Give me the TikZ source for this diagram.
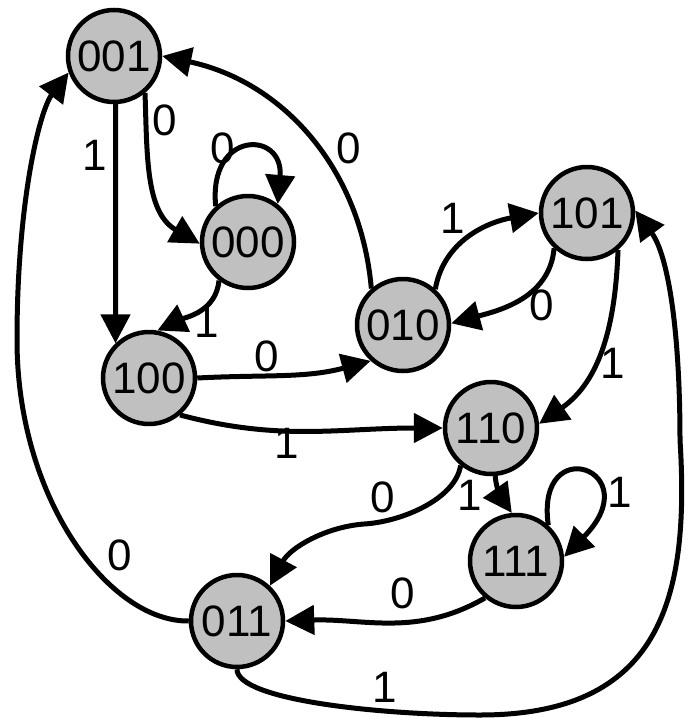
\documentclass[tikz,border=0pt]{standalone}
\usepackage{fontspec}
\setmainfont{Liberation Sans}
\usetikzlibrary{arrows.meta}
\definecolor{stategray}{HTML}{C0C0C0}
\tikzset{
  state/.style={circle, draw=black, line width=4.5pt, fill=stategray, minimum size=92pt, inner sep=0pt, font=\fontsize{44}{46}\selectfont},
  edge/.style={line width=5pt, -{Triangle[length=29pt,width=29pt]}},
  lbl/.style={inner sep=0pt, font=\fontsize{44}{46}\selectfont}
}
\begin{document}
\begin{tikzpicture}[x=1pt,y=-1pt]
\useasboundingbox (0,0) rectangle (690,718);
% states
\node[state] (n001) at (114,56) {001};
\node[state] (n000) at (248,242) {000};
\node[state] (n100) at (149,378) {100};
\node[state] (n010) at (403,325) {010};
\node[state] (n101) at (587,213) {101};
\node[state] (n110) at (491,428) {110};
\node[state] (n111) at (516,561) {111};
\node[state] (n011) at (237,621) {011};
% edges
\draw[edge] (n001.272) -- (n100.134);
\node[lbl] (l1) at (95,155) {1};
\draw[edge] (n001.-50) to[out=-88,in=150] (n000.182);
\node[lbl] (l2) at (165,120) {0};
\draw[edge] (n000.132) .. controls (208,130) and (284,130) .. (n000.52);
\node[lbl] (l3) at (223,148) {0};
\draw[edge] (n000.233) to[out=-95,in=25] (n100.80);
\node[lbl] (l4) at (207,322) {1};
\draw[edge] (n010.131) to[out=95,in=-12] (n001.0);
\node[lbl] (l5) at (349,148) {0};
\draw[edge] (n010.48) to[out=80,in=190] (n101.180);
\node[lbl] (l6) at (453,218) {1};
\draw[edge] (n101.227) to[out=-95,in=15] (n010.2);
\node[lbl] (l7) at (542,305) {0};
\draw[edge] (n100.0) to[out=3,in=195] (n010.228);
\node[lbl] (l8) at (267,356) {0};
\draw[edge] (n100.-50) to[out=-15,in=180] (n110.180);
\node[lbl] (l9) at (287,443) {1};
\draw[edge] (n101.-50) to[out=-92,in=35] (n110.5);
\node[lbl] (l10) at (613,363) {1};
\draw[edge] (n110.-85) to[out=-85,in=125] (n111.95);
\node[lbl] (l11) at (470,495) {1};
\draw[edge] (n111.48) .. controls (535,430) and (650,470) .. (n111.5);
\node[lbl] (l12) at (620,492) {1};
\draw[edge] (n110.231) .. controls (455,500) and (400,522) .. (364,524)
  .. controls (325,527) and (290,548) .. (n011.47);
\node[lbl] (l13) at (383,497) {0};
\draw[edge] (n111.230) to[out=-150,in=2] (n011.0);
\node[lbl] (l14) at (403,593) {0};
\draw[edge] (n011.180) .. controls (110,622) and (17,500) .. (17,340)
  .. controls (17,200) and (40,110) .. (n001.200);
\node[lbl] (l15) at (120,555) {0};
\draw[edge] (n011.-90) .. controls (237,700) and (380,715) .. (480,715)
  .. controls (660,715) and (690,600) .. (680,440)
  .. controls (680,330) and (668,255) .. (n101.3);
\node[lbl] (l16) at (385,687) {1};
\end{tikzpicture}
\end{document}
